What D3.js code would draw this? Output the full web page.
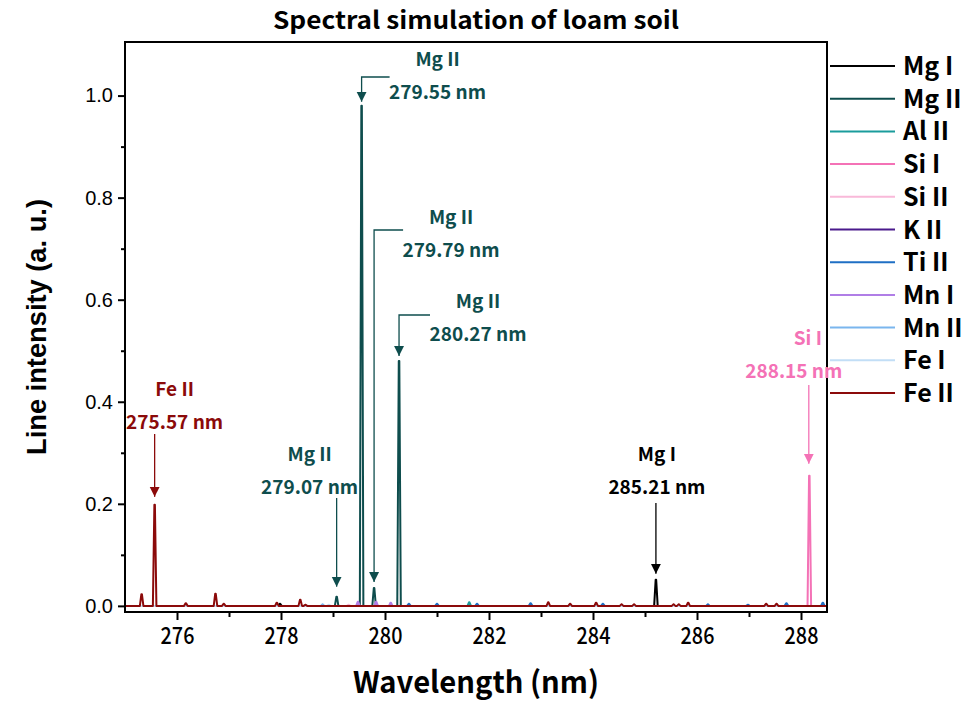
<!DOCTYPE html>
<html><head><meta charset="utf-8">
<script src="https://cdn.jsdelivr.net/npm/d3@7/dist/d3.min.js"></script>
<style>
html,body{margin:0;padding:0;background:#fff;}
svg{display:block;}
</style></head>
<body>
<svg id="chart" width="967" height="704"></svg>
<script>
// ---------------- data ----------------
const chartTitle = "Spectral simulation of loam soil";
const xTitle = "Wavelength (nm)";
const yTitle = "Line intensity (a. u.)";
const xTickValues = [276, 278, 280, 282, 284, 286, 288];
const xMinorTicks = [275, 277, 279, 281, 283, 285, 287];
const yTickValues = [0.0, 0.2, 0.4, 0.6, 0.8, 1.0];
const yMinorTicks = [0.1, 0.3, 0.5, 0.7, 0.9];

const seriesNames = ["Mg I", "Mg II", "Al II", "Si I", "Si II", "K II", "Ti II", "Mn I", "Mn II", "Fe I", "Fe II"];
const seriesColors = ["#000000", "#0e4d4d", "#1a9c9c", "#f472b6", "#f9b9d9", "#4a1a8c", "#1f6fc4", "#b07ee6", "#7ab6ee", "#c2def6", "#8b0a0a"];

// emission lines [wavelength nm, intensity a.u.]
const mgILines = [[277.98, 0.004], [285.21, 0.051]];
const mgIILines = [[279.07, 0.018], [279.55, 0.980], [279.79, 0.035], [280.27, 0.480]];
const alIILines = [[281.62, 0.007]];
const siILines = [[288.16, 0.255]];
const siIILines = [[279.30, 0.002]];
const kIILines = [];
const tiIILines = [[280.46, 0.004], [281.00, 0.004], [281.77, 0.004], [282.80, 0.005], [284.19, 0.004], [286.21, 0.003], [286.98, 0.002], [287.72, 0.005], [288.42, 0.006]];
const mnILines = [[279.48, 0.008], [279.83, 0.008], [280.11, 0.006]];
const mnIILines = [[278.80, 0.003]];
const feILines = [[278.92, 0.002]];
const feIILines = [[275.32, 0.023], [275.57, 0.198], [276.17, 0.005], [276.74, 0.024], [276.90, 0.004], [277.92, 0.006], [278.37, 0.012], [278.47, 0.002], [283.14, 0.007], [283.56, 0.004], [284.06, 0.006], [284.55, 0.003], [284.79, 0.003], [285.55, 0.003], [285.65, 0.003], [285.83, 0.006], [287.33, 0.004], [287.53, 0.004]];

const seriesLines = [mgILines, mgIILines, alIILines, siILines, siIILines, kIILines, tiIILines, mnILines, mnIILines, feILines, feIILines];

// annotated peaks
const annSeries = ["Fe II", "Mg II", "Mg II", "Mg II", "Mg II", "Mg I", "Si I"];
const annWave = [275.57, 279.07, 279.55, 279.79, 280.27, 285.21, 288.15];
const annPeak = [0.198, 0.018, 0.980, 0.035, 0.480, 0.051, 0.255];

// ---------------- layout ----------------
const svg = d3.select("#chart");
const L = 125, R = 827, T = 42, B = 612;
const x = d3.scaleLinear().domain([275, 288.5]).range([L, R]);
const y = d3.scaleLinear().domain([-0.012, 1.105]).range([B, T]);
const lineW = 0.034; // half base width of a drawn line profile (nm)

const annColors = annSeries.map(s => seriesColors[seriesNames.indexOf(s)]);
const annLayout = [
  {dx: 20, nameY: 396, style: "straight", gap: 8, top: 434},
  {dx: -27, nameY: 461, style: "straight", gap: 10, top: 498},
  {dx: 76, nameY: 66, style: "elbow", gap: 4, ey: 77, ex: 28},
  {dx: 77, nameY: 224, style: "elbow", gap: 6, ey: 230, ex: 29},
  {dx: 79, nameY: 308, style: "elbow", gap: 5, ey: 315, ex: 31},
  {dx: 1, nameY: 461, style: "straight", gap: 6, top: 503},
  {dx: -15, nameY: 345, style: "straight", gap: 12, top: 385, nameDx: 14}
];

const defs = svg.append("defs");
annColors.forEach((c, i) => {
  defs.append("marker").attr("id", "ah" + i)
    .attr("viewBox", "0 0 10 10").attr("refX", 10).attr("refY", 5)
    .attr("markerUnits", "userSpaceOnUse")
    .attr("markerWidth", 10).attr("markerHeight", 16).attr("orient", "auto")
    .append("path").attr("d", "M0,0 L10,5 L0,10 Z").attr("fill", c);
});

svg.append("clipPath").attr("id", "clip").append("rect")
  .attr("x", L).attr("y", T).attr("width", R - L).attr("height", B - T);

// spectrum paths
const line = d3.line().x(d => x(d[0])).y(d => y(d[1]));
function profile(lines) {
  const pts = [[275, 0]];
  lines.slice().sort((a, b) => a[0] - b[0]).forEach(([w, h]) => {
    pts.push([w - lineW, 0], [w - lineW * 0.15, h], [w + lineW * 0.15, h], [w + lineW, 0]);
  });
  pts.push([288.5, 0]);
  return pts;
}
const gSpec = svg.append("g").attr("clip-path", "url(#clip)");
seriesLines.forEach((ls, i) => {
  gSpec.append("path").datum(profile(ls))
    .attr("d", line).attr("fill", "none")
    .attr("stroke", seriesColors[i]).attr("stroke-width", 2).attr("stroke-linejoin", "round");
});

// axes
const fontX = "'Noto Sans CJK JP', 'Noto Sans', sans-serif";
const fontA = "'Liberation Sans', Arial, sans-serif";

const xAxis = svg.append("g").attr("transform", `translate(0,${B})`)
  .call(d3.axisBottom(x).tickValues(xTickValues).tickSize(8).tickPadding(8).tickFormat(d3.format("d")));
svg.append("g").attr("transform", `translate(0,${B})`)
  .call(d3.axisBottom(x).tickValues(xMinorTicks.filter(v => v > 275)).tickSize(5).tickFormat(""));
xAxis.selectAll("text").attr("font-family", fontX).attr("font-size", 23).attr("font-weight", 500)
  .attr("fill", "#000").attr("transform", "scale(0.86,1)");

const yAxis = svg.append("g").attr("transform", `translate(${L},0)`)
  .call(d3.axisLeft(y).tickValues(yTickValues).tickSize(7).tickPadding(5).tickFormat(d3.format(".1f")));
svg.append("g").attr("transform", `translate(${L},0)`)
  .call(d3.axisLeft(y).tickValues(yMinorTicks).tickSize(4).tickFormat(""));
yAxis.selectAll("text").attr("font-family", fontA).attr("font-size", 20).attr("fill", "#000");

svg.selectAll(".domain").remove();
svg.selectAll(".tick line").attr("stroke", "#000").attr("stroke-width", 2);

// frame
svg.append("rect").attr("x", L).attr("y", T).attr("width", R - L).attr("height", B - T)
  .attr("fill", "none").attr("stroke", "#000").attr("stroke-width", 2);

// titles
svg.append("text").attr("x", 476).attr("y", 29).attr("text-anchor", "middle")
  .attr("font-family", fontX).attr("font-size", 24).attr("font-weight", 700)
  .attr("textLength", 406).attr("lengthAdjust", "spacingAndGlyphs").text(chartTitle);
svg.append("text").attr("x", 476).attr("y", 693).attr("text-anchor", "middle")
  .attr("font-family", fontX).attr("font-size", 30).attr("font-weight", 700)
  .attr("textLength", 246).attr("lengthAdjust", "spacingAndGlyphs").text(xTitle);
svg.append("text").attr("transform", "translate(46,327) rotate(-90)").attr("text-anchor", "middle")
  .attr("font-family", fontA).attr("font-size", 28).attr("font-weight", 700)
  .attr("textLength", 256).attr("lengthAdjust", "spacingAndGlyphs").text(yTitle);

// annotations
const gAnn = svg.append("g");
annWave.forEach((w, i) => {
  const lay = annLayout[i], c = annColors[i];
  const px = x(w), tipY = y(annPeak[i]) - lay.gap;
  const cx = px + lay.dx;
  gAnn.append("text").attr("x", cx + (lay.nameDx || 0)).attr("y", lay.nameY).attr("text-anchor", "middle")
    .attr("font-family", fontX).attr("font-size", 19).attr("font-weight", 700).attr("fill", c)
    .text(annSeries[i]);
  gAnn.append("text").attr("x", cx).attr("y", lay.nameY + 33).attr("text-anchor", "middle")
    .attr("font-family", fontX).attr("font-size", 19).attr("font-weight", 700).attr("fill", c)
    .text(w.toFixed(2) + " nm");
  let d;
  if (lay.style === "straight") d = `M${px},${lay.top} L${px},${tipY}`;
  else d = `M${px + lay.ex},${lay.ey} L${px},${lay.ey} L${px},${tipY}`;
  gAnn.append("path").attr("d", d).attr("fill", "none").attr("stroke", c)
    .attr("stroke-width", 1.3).attr("marker-end", `url(#ah${i})`);
});

// legend
const gLeg = svg.append("g");
seriesNames.forEach((n, i) => {
  const yy = 66 + i * 32.7;
  gLeg.append("line").attr("x1", 830).attr("x2", 895).attr("y1", yy).attr("y2", yy)
    .attr("stroke", seriesColors[i]).attr("stroke-width", 2);
  gLeg.append("text").attr("x", 903).attr("y", yy).attr("dy", "0.36em")
    .attr("font-family", fontX).attr("font-size", 25).attr("font-weight", 700).text(n);
});
</script>
</body></html>
